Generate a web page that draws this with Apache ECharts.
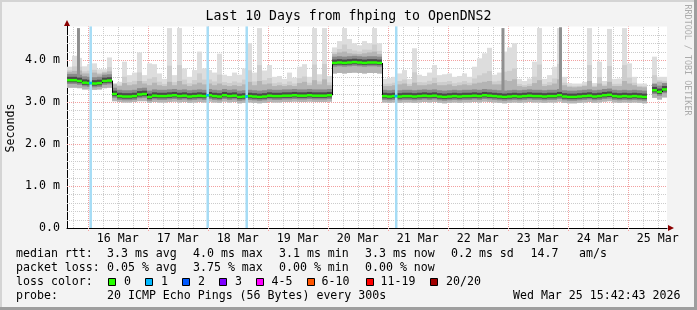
<!DOCTYPE html>
<html><head><meta charset="utf-8">
<script src="https://cdn.jsdelivr.net/npm/echarts@6/dist/echarts.min.js"></script>
<style>html,body{margin:0;padding:0;background:#f3f3f3}#c{width:697px;height:310px}</style>
</head><body><div id="c"></div>
<script>
// ---- data (2-hour bins starting at graph start) ----
const startTime = '2026-03-15T15:42:43Z';
const endTime = '2026-03-25T15:42:43Z';
const binHours = 2;
const medianRtt = [
 3.52,3.52,3.50,3.46,3.45,3.44,3.45,3.50,3.51,3.19,
 3.14,3.13,3.13,3.14,3.18,3.19,3.12,3.15,3.14,3.14,
 3.15,3.16,3.14,3.15,3.13,3.14,3.15,3.14,3.16,3.14,
 3.13,3.16,3.14,3.15,3.12,3.13,3.14,3.13,3.12,3.13,
 3.15,3.14,3.14,3.15,3.15,3.16,3.15,3.15,3.16,3.15,
 3.15,3.15,3.16,3.93,3.94,3.93,3.94,3.95,3.94,3.93,
 3.94,3.94,3.93,3.14,3.13,3.14,3.13,3.14,3.14,3.13,
 3.14,3.15,3.14,3.15,3.13,3.12,3.13,3.14,3.13,3.14,
 3.14,3.15,3.14,3.16,3.15,3.14,3.13,3.12,3.13,3.14,
 3.13,3.14,3.15,3.14,3.14,3.13,3.14,3.14,3.16,3.13,
 3.12,3.12,3.13,3.14,3.15,3.13,3.14,3.16,3.17,3.14,
 3.13,3.14,3.13,3.14,3.13,3.12,null,3.28,3.24,3.30
];
const smokeLow = [
 3.34,3.34,3.33,3.30,3.30,3.29,3.30,3.33,3.34,3.02,
 3.00,2.99,2.99,3.00,3.02,3.02,2.98,3.00,2.99,2.99,
 3.00,3.01,2.99,3.00,2.98,2.99,3.00,2.99,3.01,2.99,
 2.98,3.01,2.99,3.00,2.97,2.98,2.99,2.98,2.97,2.98,
 3.00,2.99,2.99,3.00,3.00,3.01,3.00,3.00,3.01,3.00,
 3.00,3.00,3.01,3.68,3.69,3.68,3.69,3.70,3.69,3.68,
 3.69,3.69,3.68,2.99,2.98,2.99,2.98,2.99,2.99,2.98,
 2.99,3.00,2.99,3.00,2.98,2.97,2.98,2.99,2.98,2.99,
 2.99,3.00,2.99,3.01,3.00,2.99,2.98,2.97,2.98,2.99,
 2.98,2.99,3.00,2.99,2.99,2.98,2.99,2.99,3.01,2.98,
 2.97,2.97,2.98,2.99,3.00,2.98,2.99,3.01,3.02,2.99,
 2.98,2.99,2.98,2.99,2.98,2.97,null,3.10,3.06,3.11
];
const smokeHigh = [
 3.72,3.74,3.75,3.68,3.68,3.70,3.66,3.70,3.73,3.42,
 3.38,3.45,3.40,3.42,3.50,3.44,3.40,3.46,3.40,3.38,
 3.48,3.40,3.50,3.42,3.38,3.42,3.46,3.42,3.44,3.40,
 3.44,3.40,3.38,3.40,3.38,3.42,3.48,3.40,3.50,3.42,
 3.44,3.38,3.40,3.38,3.40,3.38,3.45,3.48,3.40,3.52,
 3.42,3.54,3.40,4.14,4.18,4.20,4.16,4.15,4.14,4.16,
 4.18,4.20,4.14,3.38,3.38,3.40,3.42,3.44,3.38,3.46,
 3.40,3.40,3.42,3.45,3.40,3.40,3.42,3.38,3.40,3.42,
 3.40,3.44,3.46,3.48,3.50,3.42,3.42,3.52,3.50,3.54,
 3.38,3.36,3.38,3.45,3.52,3.38,3.40,3.44,3.54,3.40,
 3.36,3.35,3.36,3.38,3.50,3.36,3.44,3.38,3.48,3.38,
 3.38,3.50,3.44,3.40,3.36,3.35,null,3.45,3.48,3.46
];
const smokeMax = [
 3.84,4.10,4.05,3.85,3.90,3.92,3.78,3.78,4.06,3.45,
 3.48,3.96,3.64,3.70,4.18,3.64,3.92,3.90,3.68,3.55,
 4.76,3.64,4.76,3.80,3.60,3.76,4.20,3.80,3.76,3.70,
 4.15,3.65,3.62,3.70,3.65,3.80,4.40,3.70,4.76,3.75,
 3.88,3.60,3.62,3.55,3.70,3.58,3.84,3.90,3.60,4.76,
 3.66,4.76,3.62,4.30,4.45,4.76,4.50,4.40,4.35,4.45,
 4.40,4.76,4.40,3.55,3.57,3.60,3.68,3.76,3.55,4.28,
 3.65,3.62,3.70,3.88,3.64,3.66,3.68,3.60,3.62,3.68,
 3.60,3.84,4.04,4.16,4.29,3.65,3.70,4.20,4.30,4.40,
 3.55,3.50,3.56,3.96,4.76,3.55,3.64,3.84,4.76,3.60,
 3.45,3.44,3.44,3.48,4.76,3.45,3.96,3.50,4.74,3.55,
 3.56,4.76,3.92,3.60,3.44,3.44,null,4.08,3.60,3.60
];
// dense spikes (many slow pings): [time, top in ms]
const denseSpikes = [
 ['2026-03-15T20:18Z', 4.76],
 ['2026-03-22T22:06Z', 4.76],
 ['2026-03-23T21:06Z', 4.78]
];
// packet loss events: [time, lost pings]
const lossEvents = [
 ['2026-03-16T01:06Z', 1],
 ['2026-03-17T23:54Z', 1],
 ['2026-03-18T15:30Z', 1],
 ['2026-03-21T03:18Z', 1]
];
const xTickDays = [16,17,18,19,20,21,22,23,24,25];
const xTickLabels = ['16 Mar','17 Mar','18 Mar','19 Mar','20 Mar','21 Mar','22 Mar','23 Mar','24 Mar','25 Mar'];
const yTickValues = [0,1,2,3,4];
const yTickLabels = ['0.0','1.0 m','2.0 m','3.0 m','4.0 m'];
const yMax = 4.8;
const lossLegendLabels = ['0','1','2','3','4-5','6-10','11-19','20/20'];

// ---- build ----
const T0 = Date.parse(startTime), T1 = Date.parse(endTime), BIN = binHours*3600e3;
const MONO = 'DejaVu Sans Mono';
const smokeData = medianRtt.map((m,i)=>[T0+i*BIN, m, smokeLow[i], smokeHigh[i], smokeMax[i]]);
const noonTimes = xTickDays.map(d=>Date.UTC(2026,2,d,12));
const vGrid = [];
for (let d=15; d<=25; d++) for (let h=0; h<24; h+=6) {
  const t = Date.UTC(2026,2,d,h);
  if (t>T0 && t<T1) vGrid.push([t, h===0?1:0]);
}
const hGrid = [];
for (let k=1; k<24; k++) hGrid.push([k/5, k%5===0?1:0]);

function binIndex(t){ return Math.floor((t-T0)/BIN); }

const chart = echarts.init(document.getElementById('c'), null, {renderer:'canvas'});
const lossColors = ['#26ff00','#00b8ff','#0059ff','#7e00ff','#ff00ff','#ff5500','#ff0000','#a10000'];
const boxX = [108,145,182,219,256,307,366,430];
const boxLabelX = [124,161,198,235,271.5,321.5,380.5,446];

const txt = (x,y,s,extra)=>Object.assign({type:'text', x:x, y:y, silent:true,
  style:{text:s, fill:'#000', font:'11.6px "'+MONO+'"', textVerticalAlign:'middle', textAlign:'left'}}, extra||{});

const graphics = [
  txt(348.5,17,'Last 10 Days from fhping to OpenDNS2',{style:{text:'Last 10 Days from fhping to OpenDNS2',fill:'#000',font:'13.2px "'+MONO+'"',textAlign:'center',textVerticalAlign:'middle'}}),
  {type:'text', x:11, y:128, rotation:Math.PI/2, silent:true, style:{text:'Seconds', fill:'#000', font:'11.6px "'+MONO+'"', textAlign:'center', textVerticalAlign:'middle'}},
  {type:'text', x:687, y:60, rotation:-Math.PI/2, silent:true, style:{text:'RRDTOOL / TOBI OETIKER', fill:'#ababab', font:'8.4px "'+MONO+'"', textAlign:'center', textVerticalAlign:'middle'}},
  txt(16,254,'median rtt:'), txt(107,254,'3.3 ms avg'), txt(193,254,'4.0 ms max'), txt(279,254,'3.1 ms min'),
  txt(365,254,'3.3 ms now'), txt(451,254,'0.2 ms sd'), txt(530.5,254,'14.7'), txt(579,254,'am/s'),
  txt(16,268,'packet loss:'), txt(107,268,'0.05 % avg'), txt(193,268,'3.75 % max'), txt(279,268,'0.00 % min'), txt(365,268,'0.00 % now'),
  txt(16,282,'loss color:'),
  txt(16,296,'probe:'), txt(107,296,'20 ICMP Echo Pings (56 Bytes) every 300s'),
  txt(680.5,296,'Wed Mar 25 15:42:43 2026',{style:{text:'Wed Mar 25 15:42:43 2026',fill:'#000',font:'11.6px "'+MONO+'"',textAlign:'right',textVerticalAlign:'middle'}}),
  // axis arrows
  {type:'polygon', silent:true, shape:{points:[[64,26],[70,26],[67,20]]}, style:{fill:'#8b0000'}},
  {type:'polygon', silent:true, shape:{points:[[668,225],[668,231],[674,228]]}, style:{fill:'#8b0000'}},
  // frame
  {type:'rect', silent:true, shape:{x:0,y:0,width:697,height:2}, style:{fill:'#d4d4d4'}},
  {type:'rect', silent:true, shape:{x:0,y:0,width:2,height:310}, style:{fill:'#d4d4d4'}},
  {type:'rect', silent:true, shape:{x:694,y:0,width:3,height:310}, style:{fill:'#9e9e9e'}},
  {type:'rect', silent:true, shape:{x:0,y:307,width:697,height:3}, style:{fill:'#9e9e9e'}}
];
lossLegendLabels.forEach((s,i)=>{
  graphics.push({type:'rect', silent:true, shape:{x:boxX[i]+0.5,y:278.5,width:7,height:7}, style:{fill:lossColors[i], stroke:'#000', lineWidth:1}});
  graphics.push(txt(boxLabelX[i],282,s));
});

const option = {
  animation:false,
  backgroundColor:'#f3f3f3',
  grid:{left:67, top:26.4, width:600, height:201.6, show:true, backgroundColor:'#ffffff', borderWidth:0, containLabel:false},
  xAxis:{type:'value', min:T0, max:T1,
    axisLine:{show:true, lineStyle:{color:'#000', width:1}},
    axisTick:{show:false},
    splitLine:{show:false},
    axisLabel:{customValues:noonTimes, margin:5, color:'#000', fontFamily:MONO, fontSize:11.6,
      formatter:v=>{const k=noonTimes.indexOf(v); return k>=0?xTickLabels[k]:'';}}
  },
  yAxis:{type:'value', min:0, max:yMax, interval:1,
    axisLine:{show:true, lineStyle:{color:'#000', width:1}},
    axisTick:{show:false}, splitLine:{show:false},
    axisLabel:{showMaxLabel:false, margin:7, color:'#000', fontFamily:MONO, fontSize:11.6,
      formatter:v=>{const k=yTickValues.findIndex(t=>Math.abs(t-v)<1e-6); return k>=0?yTickLabels[k]:'';}}
  },
  graphic:graphics,
  series:[
    { // vertical grid
      type:'custom', silent:true, z:1, data:vGrid, encode:{x:0},
      renderItem:(p,api)=>{
        const t=api.value(0), major=api.value(1);
        const a=api.coord([t,0]), b=api.coord([t,yMax]);
        const x=Math.round(a[0])+0.5;
        return {type:'line', shape:{x1:x,y1:major?a[1]+3:a[1],x2:x,y2:b[1]},
          style:{stroke:major?'#f2a0a0':'#cccccc', lineWidth:1, lineDash:[1,1]}};
      }
    },
    { // horizontal grid
      type:'custom', silent:true, z:1, data:hGrid, encode:{y:0},
      renderItem:(p,api)=>{
        const v=api.value(0), major=api.value(1);
        const a=api.coord([T0,v]), b=api.coord([T1,v]);
        const y=Math.round(a[1])+0.5;
        return {type:'line', shape:{x1:a[0],y1:y,x2:b[0],y2:y},
          style:{stroke:major?'#f2a0a0':'#cccccc', lineWidth:1, lineDash:[1,1]}};
      }
    },
    { // smoke
      type:'custom', silent:true, z:2, data:smokeData, encode:{x:0,y:1},
      renderItem:(p,api)=>{
        const t=api.value(0), m=api.value(1);
        if (m==null || isNaN(m)) return null;
        const lo=api.value(2), hi=api.value(3), mx=api.value(4);
        const x0=api.coord([t,0])[0], x1=api.coord([t+BIN,0])[0];
        const Y=v=>api.coord([t,v])[1];
        const band=(a,b,c)=>({type:'rect', shape:{x:x0,y:Y(b),width:x1-x0,height:Y(a)-Y(b)}, style:{fill:c}});
        return {type:'group', children:[
          band(lo,mx,'#dddddd'),
          band(lo,hi+(mx-hi)*0.3,'#cdcdcd'),
          band(lo,hi,'#b4b4b4'),
          band(m-0.09,m+0.15,'#8a8a8a'),
          band(m-0.05,m+0.08,'#4a4a4a')
        ]};
      }
    },
    { // dense spikes
      type:'custom', silent:true, z:3, data:denseSpikes.map(s=>[Date.parse(s[0]), s[1]]), encode:{x:0,y:1},
      renderItem:(p,api)=>{
        const t=api.value(0), top=api.value(1);
        const m=medianRtt[binIndex(t)];
        const a=api.coord([t,m+0.1]), b=api.coord([t,top]);
        return {type:'rect', shape:{x:a[0]-1.5,y:b[1],width:3,height:a[1]-b[1]}, style:{fill:'#8f8f8f'}};
      }
    },
    { // loss bars
      type:'custom', silent:true, z:4, data:lossEvents.map(e=>[Date.parse(e[0]), e[1]]), encode:{x:0},
      renderItem:(p,api)=>{
        const t=api.value(0);
        const a=api.coord([t,0]), b=api.coord([t,yMax]);
        return {type:'rect', shape:{x:a[0]-1,y:b[1],width:2.5,height:a[1]-b[1]}, style:{fill:'#a6dcf5'}};
      }
    },
    { // median line
      type:'custom', silent:true, z:5, data:smokeData, encode:{x:0,y:1},
      renderItem:(p,api)=>{
        const i=p.dataIndex, t=api.value(0), m=api.value(1);
        if (m==null || isNaN(m)) return null;
        const x0=api.coord([t,0])[0], x1=api.coord([t+BIN,0])[0];
        const y=api.coord([t,m])[1];
        const ch=[{type:'rect', shape:{x:x0,y:y-1.25,width:x1-x0,height:2.5}, style:{fill:'#26ff00'}}];
        const n=medianRtt[i+1];
        if (n!=null && Math.abs(n-m)>0.03) {
          const y2=api.coord([t,n])[1];
          ch.push({type:'line', shape:{x1:Math.round(x1)+0.5,y1:y,x2:Math.round(x1)+0.5,y2:y2}, style:{stroke:'#000',lineWidth:1}});
        }
        return {type:'group', children:ch};
      }
    },
    { // loss-coloured median marks
      type:'custom', silent:true, z:6, data:lossEvents.map(e=>[Date.parse(e[0]), e[1]]), encode:{x:0},
      renderItem:(p,api)=>{
        const t=api.value(0), c=api.value(1);
        const m=medianRtt[binIndex(t)];
        const a=api.coord([t,m]);
        return {type:'rect', shape:{x:a[0]-1.5,y:a[1]-1.25,width:3,height:2.5}, style:{fill:lossColors[Math.min(c,7)]}};
      }
    }
  ]
};
chart.setOption(option);
</script></body></html>
